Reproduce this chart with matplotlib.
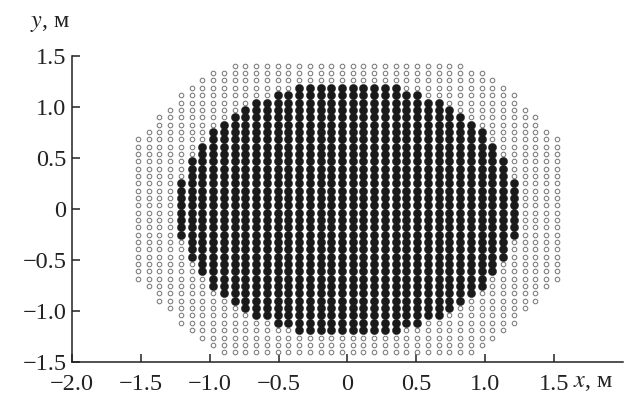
import matplotlib.pyplot as plt
import numpy as np

plt.rcParams['font.family'] = ['Liberation Serif', 'DejaVu Serif']
plt.rcParams['mathtext.fontset'] = 'stix'

# grid step, m
dx = 0.078
dy = 0.072

# points per row, top row first (40 rows)
outer_counts = [22, 26, 28, 30, 32, 32, 34, 36, 36, 38,
                40, 40, 40, 40, 40, 40, 40, 40, 40, 40,
                40, 40, 40, 40, 40, 40, 40, 40, 40, 40,
                38, 36, 36, 34, 32, 32, 30, 28, 26, 24]
filled_counts = [0, 0, 0, 10, 14, 18, 20, 22, 24, 26,
                 26, 28, 28, 30, 30, 30, 32, 32, 32, 32,
                 32, 32, 32, 32, 30, 30, 30, 28, 28, 26,
                 26, 24, 22, 20, 18, 14, 10, 0, 0, 0]

xticks = [-2.0, -1.5, -1.0, -0.5, 0, 0.5, 1.0, 1.5]
yticks = [-1.5, -1.0, -0.5, 0, 0.5, 1.0, 1.5]

nrows = len(outer_counts)
ox, oy, fx, fy = [], [], [], []
for r in range(nrows):
    y = ((nrows - 1) / 2 - r) * dy
    n = outer_counts[r]
    m = filled_counts[r]
    xs = (np.arange(n) - (n - 1) / 2) * dx
    for x in xs:
        if abs(x) < (m / 2) * dx:
            fx.append(x)
            fy.append(y)
        else:
            ox.append(x)
            oy.append(y)

fig = plt.figure(figsize=(6.24, 3.95), dpi=100)
ax = fig.add_axes([72 / 624, 1 - 362 / 395, 1 - 72 / 624 - 0.002, (362 - 56) / 395])

ax.plot(ox, oy, 'o', ms=3.3, mfc='white', mec='#7a7a7a', mew=0.75, ls='none')
ax.plot(fx, fy, 'o', ms=5.9, mfc='#1a1a1a', mec='#1a1a1a', mew=0.3, ls='none')

ax.set_xlim(-2.0, 2.0)
ax.set_ylim(-1.5, 1.5)
for s in ['top', 'right']:
    ax.spines[s].set_visible(False)
for s in ['left', 'bottom']:
    ax.spines[s].set_linewidth(1.1)
    ax.spines[s].set_color('#222222')


def fmt(v):
    if v == 0:
        return '0'
    return ('%.1f' % v).replace('-', '\u2212')


ax.set_xticks(xticks)
ax.set_xticklabels([fmt(v) for v in xticks])
ax.set_yticks(yticks)
ax.set_yticklabels([fmt(v) for v in yticks])
ax.tick_params(direction='in', length=6, width=1.1, color='#222222',
               labelsize=17.5, labelcolor='#222222')
ax.tick_params(axis='x', pad=9)
ax.tick_params(axis='y', pad=4)

fig.text(30 / 624, 1 - 27 / 395, '$y$, м', fontsize=17.5, va='baseline', color='#222222')
fig.text(573 / 624, 2 / 395, '$x$, м', fontsize=17.5, va='bottom', color='#222222')

fig.savefig('out.png', dpi=100)
